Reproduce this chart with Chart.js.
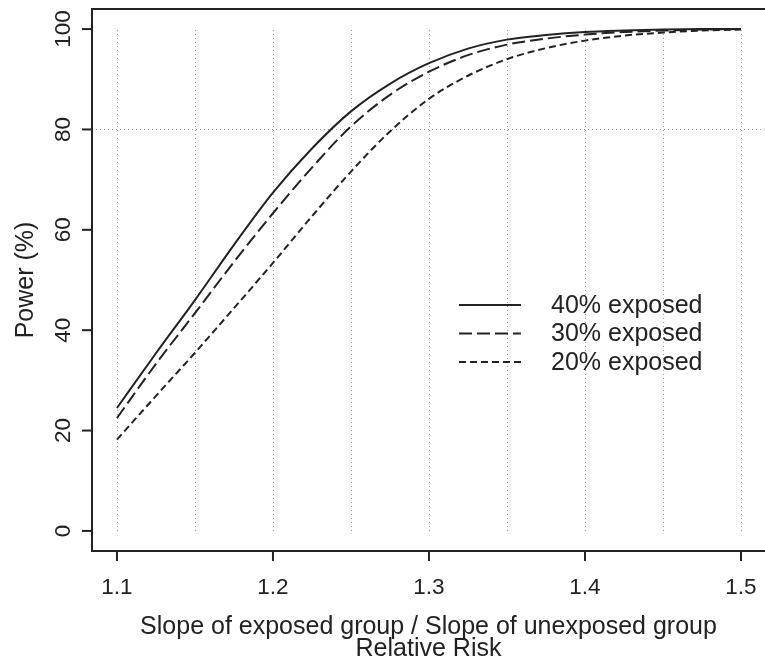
<!DOCTYPE html>
<html>
<head>
<meta charset="utf-8">
<script src="https://cdn.jsdelivr.net/npm/chart.js@4/dist/chart.umd.min.js"></script>
<style>
  html, body { margin: 0; padding: 0; background: #fff; }
  #power-chart { display: block; }
</style>
</head>
<body>
<canvas id="power-chart" width="765" height="669"></canvas>
<script>
  // Ratio of slopes (relative risk) on the x axis
  const relRisk = [1.1, 1.125, 1.15, 1.175, 1.2, 1.225, 1.25, 1.275, 1.3,
                   1.325, 1.35, 1.375, 1.4, 1.425, 1.45, 1.475, 1.5];

  // Power (%), one array per exposure level
  const power40 = [24.5, 35.4, 46.0, 57.0, 67.4, 76.2, 83.6, 89.1, 93.2,
                   96.1, 97.9, 98.8, 99.4, 99.7, 99.9, 100, 100];
  const power30 = [22.5, 33.3, 43.4, 53.6, 63.3, 72.4, 80.6, 86.9, 91.5,
                   94.8, 96.9, 98.1, 98.9, 99.4, 99.7, 99.9, 100];
  const power20 = [18.2, 26.9, 35.5, 44.4, 53.4, 62.7, 71.6, 79.6, 86.1,
                   90.7, 94.0, 96.2, 97.7, 98.7, 99.3, 99.7, 99.9];

  const seriesLabels = ["40% exposed", "30% exposed", "20% exposed"];

  // Tick labels and reference grid
  const xTicks = [1.1, 1.2, 1.3, 1.4, 1.5];
  const yTicks = [0, 20, 40, 60, 80, 100];
  const gridX = [1.1, 1.15, 1.2, 1.25, 1.3, 1.35, 1.4, 1.45, 1.5];
  const refPower = 80;

  const xTitle = "Slope of exposed group / Slope of unexposed group";
  const xTitle2 = "Relative Risk";
  const yTitle = "Power (%)";

  const INK = "#222";
  const FONT = "'Liberation Sans', Arial, sans-serif";

  const toPoints = (ys) => relRisk.map((x, i) => ({ x: x, y: ys[i] }));

  // Dotted grid, drawn under the curves
  const gridPlugin = {
    id: "rgrid",
    beforeDatasetsDraw(chart) {
      const { ctx, chartArea, scales: { x, y } } = chart;
      ctx.save();
      ctx.strokeStyle = "#9a9a9a";
      ctx.lineWidth = 1;
      ctx.setLineDash([1, 3]);
      gridX.forEach((v) => {
        const px = Math.round(x.getPixelForValue(v)) + 0.5;
        ctx.beginPath();
        ctx.moveTo(px, y.getPixelForValue(0));
        ctx.lineTo(px, y.getPixelForValue(100));
        ctx.stroke();
      });
      const py = Math.round(y.getPixelForValue(refPower)) + 0.5;
      ctx.beginPath();
      ctx.moveTo(chartArea.left, py);
      ctx.lineTo(chartArea.right, py);
      ctx.stroke();
      ctx.restore();
    },
  };

  // Box, ticks, titles and legend in the style of base R graphics
  const framePlugin = {
    id: "rframe",
    afterDatasetsDraw(chart) {
      const { ctx, chartArea, scales: { x, y } } = chart;
      ctx.save();
      ctx.strokeStyle = INK;
      ctx.fillStyle = INK;
      ctx.lineWidth = 2;
      ctx.setLineDash([]);

      // box (right side falls just past the canvas edge)
      ctx.strokeRect(chartArea.left, chartArea.top,
        chartArea.right - chartArea.left + 2, chartArea.bottom - chartArea.top);

      // x ticks
      ctx.font = "22.5px " + FONT;
      ctx.textAlign = "center";
      ctx.textBaseline = "middle";
      xTicks.forEach((v) => {
        const px = x.getPixelForValue(v);
        ctx.beginPath();
        ctx.moveTo(px, chartArea.bottom);
        ctx.lineTo(px, chartArea.bottom + 10);
        ctx.stroke();
        ctx.fillText(v.toFixed(1), px, chartArea.bottom + 37);
      });

      // y ticks, labels turned like las = 0
      yTicks.forEach((v) => {
        const py = y.getPixelForValue(v);
        ctx.beginPath();
        ctx.moveTo(chartArea.left - 10, py);
        ctx.lineTo(chartArea.left, py);
        ctx.stroke();
        ctx.save();
        ctx.translate(chartArea.left - 28, py);
        ctx.rotate(-Math.PI / 2);
        ctx.fillText(String(v), 0, 0);
        ctx.restore();
      });

      // axis titles
      const midX = (chartArea.left + chartArea.right) / 2;
      const midY = (chartArea.top + chartArea.bottom) / 2;
      ctx.font = "25px " + FONT;
      ctx.textBaseline = "alphabetic";
      ctx.fillText(xTitle, midX, chartArea.bottom + 83);
      ctx.fillText(xTitle2, midX, chartArea.bottom + 105);
      ctx.save();
      ctx.translate(33, midY);
      ctx.rotate(-Math.PI / 2);
      ctx.fillText(yTitle, 0, 0);
      ctx.restore();

      // legend
      ctx.font = "25px " + FONT;
      ctx.textAlign = "left";
      ctx.textBaseline = "middle";
      ctx.lineWidth = 2;
      chart.data.datasets.forEach((ds, i) => {
        const ly = 305 + i * 28.5;
        ctx.setLineDash(ds.borderDash || []);
        ctx.beginPath();
        ctx.moveTo(459, ly);
        ctx.lineTo(521, ly);
        ctx.stroke();
        ctx.setLineDash([]);
        ctx.fillText(ds.label, 551, ly + 1);
      });
      ctx.restore();
    },
  };

  const makeSeries = (label, ys, dash) => ({
    label: label,
    data: toPoints(ys),
    borderColor: INK,
    borderWidth: 2,
    borderDash: dash,
    pointRadius: 0,
    fill: false,
    cubicInterpolationMode: "monotone",
  });

  const createChart = (ctx) => {
    return new Chart(ctx, {
      type: "line",
      data: {
        datasets: [
          makeSeries(seriesLabels[0], power40, []),
          makeSeries(seriesLabels[1], power30, [13, 5]),
          makeSeries(seriesLabels[2], power20, [7, 4]),
        ],
      },
      options: {
        responsive: false,
        animation: false,
        devicePixelRatio: 1,
        layout: { padding: { left: 92, top: 9, right: 0, bottom: 118 } },
        plugins: { legend: { display: false }, tooltip: { enabled: false } },
        scales: {
          x: { type: "linear", min: 1.084, max: 1.5154, display: false },
          y: { type: "linear", min: -4, max: 104, display: false },
        },
      },
      plugins: [gridPlugin, framePlugin],
    });
  };

  const initPowerChart = () => {
    const ctx = document.getElementById("power-chart").getContext("2d");
    createChart(ctx);
  };

  document.addEventListener("DOMContentLoaded", initPowerChart);
</script>
</body>
</html>
